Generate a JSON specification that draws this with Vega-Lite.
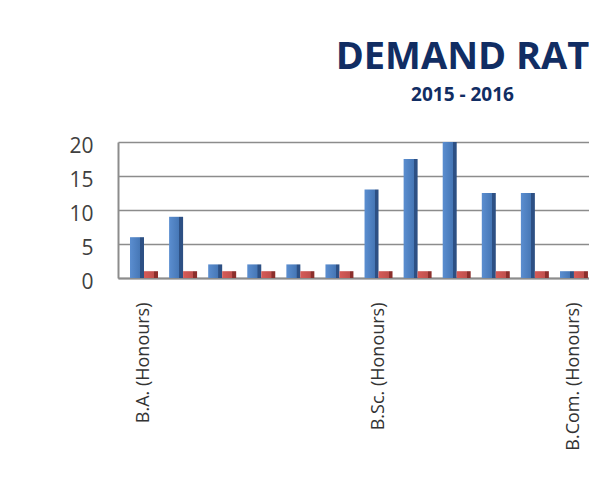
{
  "$schema": "https://vega.github.io/schema/vega-lite/v6.json",
  "autosize": {"type": "none"},
  "padding": {"left": 118, "top": 142, "right": 0, "bottom": 203},
  "width": 471,
  "height": 136,
  "background": "white",
  "title": {
    "text": "DEMAND RAT",
    "subtitle": "2015 - 2016",
    "anchor": "middle",
    "dx": 109,
    "offset": 30,
    "font": "Open Sans",
    "fontSize": 38,
    "fontWeight": "bold",
    "color": "#112d63",
    "subtitleFont": "Open Sans",
    "subtitleFontSize": 19,
    "subtitleFontWeight": "bold",
    "subtitleColor": "#112d63",
    "subtitlePadding": 9
  },
  "data": {
    "values": [
      {"idx": 1, "series": "Series 1", "value": 6},
      {"idx": 1, "series": "Series 2", "value": 1},
      {"idx": 2, "series": "Series 1", "value": 9},
      {"idx": 2, "series": "Series 2", "value": 1},
      {"idx": 3, "series": "Series 1", "value": 2},
      {"idx": 3, "series": "Series 2", "value": 1},
      {"idx": 4, "series": "Series 1", "value": 2},
      {"idx": 4, "series": "Series 2", "value": 1},
      {"idx": 5, "series": "Series 1", "value": 2},
      {"idx": 5, "series": "Series 2", "value": 1},
      {"idx": 6, "series": "Series 1", "value": 2},
      {"idx": 6, "series": "Series 2", "value": 1},
      {"idx": 7, "series": "Series 1", "value": 13},
      {"idx": 7, "series": "Series 2", "value": 1},
      {"idx": 8, "series": "Series 1", "value": 17.5},
      {"idx": 8, "series": "Series 2", "value": 1},
      {"idx": 9, "series": "Series 1", "value": 20},
      {"idx": 9, "series": "Series 2", "value": 1},
      {"idx": 10, "series": "Series 1", "value": 12.5},
      {"idx": 10, "series": "Series 2", "value": 1},
      {"idx": 11, "series": "Series 1", "value": 12.5},
      {"idx": 11, "series": "Series 2", "value": 1},
      {"idx": 12, "series": "Series 1", "value": 1},
      {"idx": 12, "series": "Series 2", "value": 1}
    ]
  },
  "encoding": {
    "x": {
      "field": "idx",
      "type": "ordinal",
      "scale": {"paddingInner": 0.284, "paddingOuter": 0.167, "align": 0.92},
      "axis": {
        "title": null,
        "labelAngle": -90,
        "ticks": false,
        "labelPadding": 24,
        "labelFont": "Open Sans",
        "labelFontSize": 18,
        "labelColor": "#333333",
        "labelOverlap": false,
        "domainColor": "#8c8c8c",
        "domainWidth": 2,
        "grid": false,
        "labelExpr": "datum.value == 1 ? 'B.A. (Honours)' : datum.value == 7 ? 'B.Sc. (Honours)' : datum.value == 12 ? 'B.Com. (Honours)' : ''"
      }
    },
    "xOffset": {
      "field": "series",
      "type": "nominal",
      "scale": {"domain": ["Series 1", "Series 2"], "paddingInner": 0, "paddingOuter": 0}
    },
    "y": {
      "field": "value",
      "type": "quantitative",
      "scale": {"domain": [0, 20], "nice": false},
      "axis": {
        "title": null,
        "values": [0, 5, 10, 15, 20],
        "ticks": false,
        "labelPadding": 25,
        "labelFont": "Open Sans",
        "labelFontSize": 21,
        "labelColor": "#404040",
        "labelOffset": 4,
        "domainColor": "#8c8c8c",
        "domainWidth": 2,
        "grid": true,
        "gridColor": "#8c8c8c",
        "gridWidth": 1.5
      }
    }
  },
  "layer": [
    {
      "transform": [{"filter": "datum.series == 'Series 1'"}],
      "mark": {
        "type": "bar",
        "color": {
          "gradient": "linear", "x1": 0, "x2": 1, "y1": 0, "y2": 0,
          "stops": [
            {"offset": 0, "color": "#5b8ed0"},
            {"offset": 0.72, "color": "#4677b6"},
            {"offset": 0.74, "color": "#2d5084"},
            {"offset": 1, "color": "#2d5084"}
          ]
        }
      }
    },
    {
      "transform": [{"filter": "datum.series == 'Series 2'"}],
      "mark": {
        "type": "bar",
        "color": {
          "gradient": "linear", "x1": 0, "x2": 1, "y1": 0, "y2": 0,
          "stops": [
            {"offset": 0, "color": "#d65b57"},
            {"offset": 0.72, "color": "#c0504d"},
            {"offset": 0.74, "color": "#8c2f2c"},
            {"offset": 1, "color": "#8c2f2c"}
          ]
        }
      }
    }
  ],
  "config": {"view": {"stroke": null}}
}
